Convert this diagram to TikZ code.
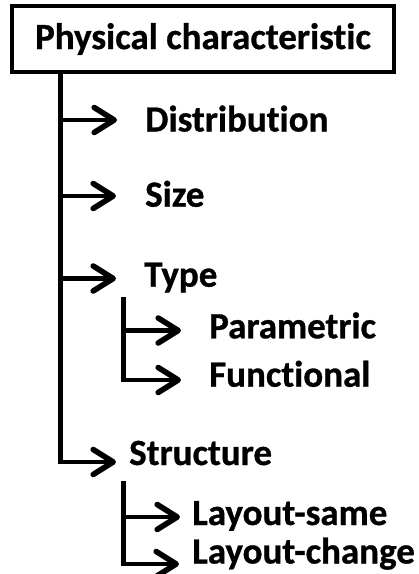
\documentclass[tikz,border=0pt]{standalone}
\usepackage{fontspec}
\setmainfont{Carlito}[RawFeature=-liga,BoldFeatures={FakeBold=0.8}]
\usetikzlibrary{arrows.meta}
\begin{document}
\begin{tikzpicture}[x=1pt,y=-1pt,
  lbl/.style={anchor=base west,inner sep=0pt,font=\fontsize{37}{42}\selectfont\bfseries},
  branch/.style={line width=4.8pt,-{Straight Barb[length=20pt,width=25pt,line width=5.6pt,line cap=round,line join=round]}}]
  \useasboundingbox (0,0) rectangle (419,574);
  % title box
  \node[draw,line width=4.4pt,minimum width=382pt,minimum height=66pt,inner sep=0pt,
        font=\fontsize{37}{42}\selectfont\bfseries] (root) at (203,39) {Physical characteristic};
  % labels
  \node[lbl] (dist) at (145,131.5) {Distribution};
  \node[lbl] (size) at (145,206.7) {Size};
  \node[lbl] (type) at (144,286.7) {Type};
  \node[lbl] (param) at (209,338.3) {Parametric};
  \node[lbl] (func) at (209,386.7) {Functional};
  \node[lbl] (struct) at (129,465) {Structure};
  \node[lbl] (lsame) at (192,525) {Layout-same};
  \node[lbl] (lchange) at (192,563.5) {Layout-change};
  % arrow tips
  \coordinate (tDist) at (117,120);
  \coordinate (tSize) at (116,196);
  \coordinate (tType) at (116,278.5);
  \coordinate (tParam) at (181,330.5);
  \coordinate (tFunc) at (181,380);
  \coordinate (tStruct) at (116,462);
  \coordinate (tSame) at (180,517);
  \coordinate (tChange) at (179,564);
  % trunk and its last branch
  \coordinate (trunkTop) at (60.5,74);
  \draw[branch,line join=miter] (trunkTop) |- (tStruct);
  \draw[branch] (trunkTop |- tDist) -- (tDist);
  \draw[branch] (trunkTop |- tSize) -- (tSize);
  \draw[branch] (trunkTop |- tType) -- (tType);
  % sub-branches of Type
  \coordinate (typeTop) at (123.5,297);
  \draw[branch,line join=miter] (typeTop) |- (tFunc);
  \draw[branch] (typeTop |- tParam) -- (tParam);
  % sub-branches of Structure
  \coordinate (structTop) at (123.5,481);
  \draw[branch,line join=miter] (structTop) |- (tChange);
  \draw[branch] (structTop |- tSame) -- (tSame);
\end{tikzpicture}
\end{document}
